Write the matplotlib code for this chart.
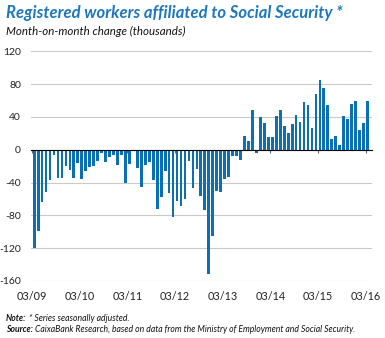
import matplotlib
matplotlib.use("Agg")
import numpy as np
import matplotlib.pyplot as plt

plt.rcParams['font.family'] = ['Lato', 'DejaVu Sans']

# Month-on-month change in registered workers (thousands), 03/2009 - 03/2016
changes = [-120, -99, -64, -52, -37.5, -6, -35, -35, -19.5, -25, -35, -16,
           -36, -25.5, -21, -19.5, -13.5, -4, -15, -9, -6.5, -19, -6.5, -41,
           -17.5, -2, -22, -45.7, -19, -15, -37.5, -72.6, -58, -26.5, -53, -82.4,
           -62, -68.6, -60, -14, -47, -23.7, -56, -73.5, -151, -105, -50, -51,
           -36, -33.5, -8, -7.3, -12, 17, 11, 48, -4, 40, 32.7, 15.5,
           15.5, 41, 49, 29.4, 21, 31.4, 42, 34, 58.4, 54, 26.5, 68,
           84.5, 75.5, 55, 13.5, 17, 6, 41, 38, 56, 59, 24.5, 32.7,
           59]
year_labels = ['03/09', '03/10', '03/11', '03/12', '03/13', '03/14', '03/15', '03/16']
y_ticks = [-160, -120, -80, -40, 0, 40, 80, 120]

BLUE = '#0c6fb6'
TITLE_BLUE = '#1c77bd'
GRID = '#c9c9c9'

fig = plt.figure(figsize=(3.85, 3.38), dpi=100)
ax = fig.add_axes([0.080, 0.169, 0.886, 0.679])

x = np.arange(len(changes))
ax.bar(x, changes, width=0.7, color=BLUE, zorder=2)

ax.set_ylim(-160, 120)
ax.set_xlim(-0.85, 85.1)
ax.set_yticks(y_ticks)
ax.set_yticklabels([str(v) for v in y_ticks], fontsize=7.5, color='#222222')
ax.yaxis.grid(True, color=GRID, linewidth=0.8, zorder=0)
ax.set_axisbelow(True)
ax.tick_params(axis='y', length=0, pad=7)

year_pos = [-0.5 + 12 * k for k in range(len(year_labels))]
ax.set_xticks(year_pos)
ax.set_xticklabels(year_labels, fontsize=7.8, color='#222222')
ax.tick_params(axis='x', length=0, pad=7.5)

for s in ax.spines.values():
    s.set_visible(False)

# zero line with small year ticks
zero_frac = (0 - (-160)) / (120 - (-160))
sec = ax.secondary_xaxis(zero_frac)
sec.set_xticks(year_pos)
sec.set_xticklabels([])
sec.tick_params(axis='x', direction='in', length=2.5, width=0.8, color='#666666')
sec.spines['bottom'].set_color('#333333')
sec.spines['bottom'].set_linewidth(0.9)
sec.set_zorder(3)

fig.text(0.016, 0.963, 'Registered workers affiliated to Social Security *',
         fontsize=12, fontweight='bold', style='italic', color=TITLE_BLUE,
         va='center', ha='left')
fig.text(0.016, 0.906, 'Month-on-month change (thousands)',
         fontsize=8.3, style='italic', color='#111111', va='center', ha='left')

# footnotes with bold lead-in
renderer = fig.canvas.get_renderer()
notes = [('Note:', ' * Series seasonally adjusted.', 0.059),
         ('Source:', ' CaixaBank Research, based on data from the Ministry of Employment and Social Security.', 0.024)]
for lead, rest, yy in notes:
    t = fig.text(0.016, yy, lead, fontsize=6.2, fontweight='bold', style='italic',
                 color='#111111', va='center', ha='left')
    bb = t.get_window_extent(renderer=renderer)
    x1 = bb.x1 / fig.bbox.width
    fig.text(x1, yy, rest, fontsize=6.2, style='italic', color='#111111',
             va='center', ha='left')

fig.savefig('out.png', dpi=100)
